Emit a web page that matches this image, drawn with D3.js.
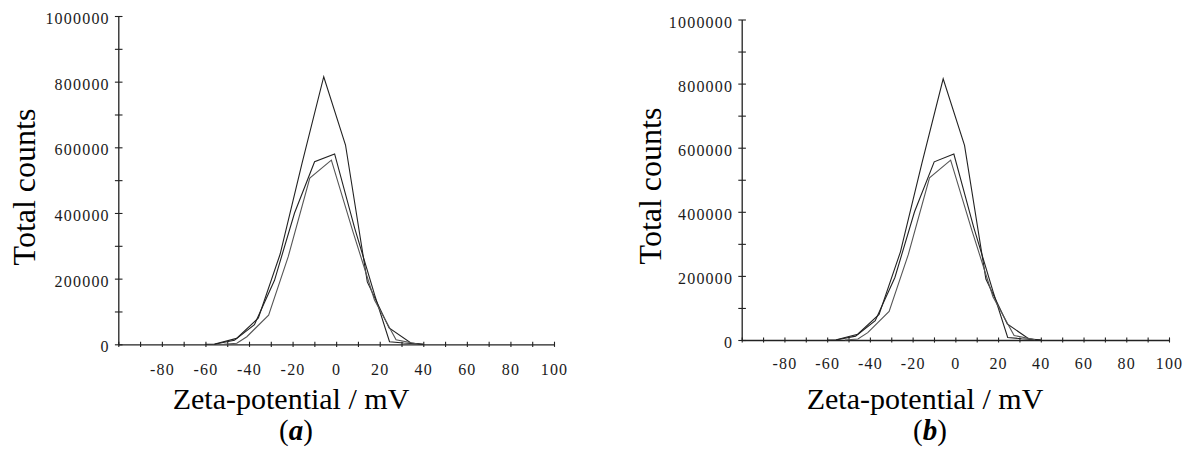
<!DOCTYPE html>
<html>
<head>
<meta charset="utf-8">
<script src="https://cdn.jsdelivr.net/npm/d3@7"></script>
<style>
  html, body { margin: 0; padding: 0; background: #fff; }
  svg { display: block; }
  svg text { font-family: "Liberation Serif", "Times New Roman", serif !important; }
</style>
</head>
<body>
<script>
// Zeta-potential distributions (mV) and total counts for three repeated runs
const runA_mV = [-60, -55.7, -45.7, -35.7, -25.7, -15.7, -5.7, 4.3, 14.3, 24.3, 34.3, 40];
const runA_counts = [0, 1000, 18000, 80000, 275000, 550000, 815000, 607000, 190000, 50000, 4000, 0];

const runB_mV = [-55.9, -46.7, -37.5, -28.3, -19.1, -9.9, -0.7, 8.5, 17.7, 24.5, 31, 40];
const runB_counts = [0, 12000, 60000, 195000, 400000, 556000, 580000, 354000, 150000, 8000, 4000, 0];

const runC_mV = [-51.7, -45.6, -41, -31, -22, -12.1, -2.2, 7.7, 17.6, 27.5, 37.4];
const runC_counts = [0, 3000, 23000, 89000, 267000, 506000, 561000, 343000, 135000, 14000, 1000];

// Axis ticks and labels
const xTicks = d3.range(-100, 101, 10);
const xLabels = [-80, -60, -40, -20, 0, 20, 40, 60, 80, 100];
const yTicks = d3.range(0, 1000001, 100000);
const yLabels = [0, 200000, 400000, 600000, 800000, 1000000];

const xTitle = "Zeta-potential / mV";
const yTitle = "Total counts";
const panelLetters = ["a", "b"];

const runs = [
  { mV: runA_mV, counts: runA_counts },
  { mV: runB_mV, counts: runB_counts },
  { mV: runC_mV, counts: runC_counts }
];

const svg = d3.select("body").append("svg")
  .attr("width", 1191).attr("height", 453);

// Frame geometry of each panel
const panels = [
  { x0: 118.3, x1: 554, y0: 344.3, y1: 16, xLabY: 31, yTitleX: 35, xTitleY: 409, letterY: 440, titleCx: 291, ytCy: 187 },
  { x0: 741.7, x1: 1169, y0: 340, y1: 19.5, xLabY: 29.3, yTitleX: 660.5, xTitleY: 409, letterY: 440, titleCx: 925, ytCy: 186 }
];

panels.forEach((p, i) => {
  const x = d3.scaleLinear().domain([-100, 100]).range([p.x0, p.x1]);
  const y = d3.scaleLinear().domain([0, 1000000]).range([p.y0, p.y1]);
  const g = svg.append("g");

  // x axis
  const gx = g.append("g").attr("transform", `translate(0,${p.y0})`)
    .call(d3.axisBottom(x).tickValues(xTicks).tickSizeOuter(0).tickSizeInner(0)
      .tickFormat(d => xLabels.includes(d) ? String(d) : ""));
  gx.attr("font-size", 16);
  gx.select(".domain").attr("stroke", "#222").attr("stroke-width", 1.3);
  gx.selectAll(".tick line").attr("y1", -2.6).attr("y2", 2.6).attr("stroke", "#222").attr("stroke-width", 1.1);
  gx.selectAll(".tick text").attr("y", p.xLabY).attr("dy", 0)
    .attr("fill", "#1a1a1a").attr("letter-spacing", "1.2px");

  // y axis
  const gy = g.append("g").attr("transform", `translate(${p.x0},0)`)
    .call(d3.axisLeft(y).tickValues(yTicks).tickSizeOuter(0).tickSizeInner(0)
      .tickFormat(d => yLabels.includes(d) ? String(d) : ""));
  gy.attr("font-size", 16);
  gy.select(".domain").attr("stroke", "#222").attr("stroke-width", 1.3);
  gy.selectAll(".tick line").attr("x1", -3.4).attr("x2", 4.2).attr("stroke", "#222").attr("stroke-width", 1.1);
  gy.selectAll(".tick text").attr("x", -8.5).attr("dy", 0).attr("y", 7.5)
    .attr("fill", "#1a1a1a").attr("letter-spacing", "1.2px");

  // distribution curves
  const line = d3.line().x(d => x(d[0])).y(d => y(d[1]));
  runs.forEach((r, k) => {
    g.append("path")
      .datum(r.mV.map((v, j) => [v, r.counts[j]]))
      .attr("fill", "none")
      .attr("stroke", k === 2 ? "#555" : "#222")
      .attr("stroke-width", 1.1)
      .attr("d", line);
  });

  // axis titles
  g.append("text")
    .attr("transform", `translate(${p.yTitleX},${p.ytCy}) rotate(-90)`)
    .attr("text-anchor", "middle")
    .attr("font-size", 32)
    .text(yTitle);

  g.append("text")
    .attr("x", p.titleCx).attr("y", p.xTitleY)
    .attr("text-anchor", "middle")
    .attr("font-size", 30)
    .text(xTitle);

  const lt = g.append("text")
    .attr("x", p.titleCx + 5).attr("y", p.letterY)
    .attr("text-anchor", "middle")
    .attr("font-size", 29);
  lt.append("tspan").text("(");
  lt.append("tspan").attr("font-weight", "bold").attr("font-style", "italic").text(panelLetters[i]);
  lt.append("tspan").text(")");
});
</script>
</body>
</html>
